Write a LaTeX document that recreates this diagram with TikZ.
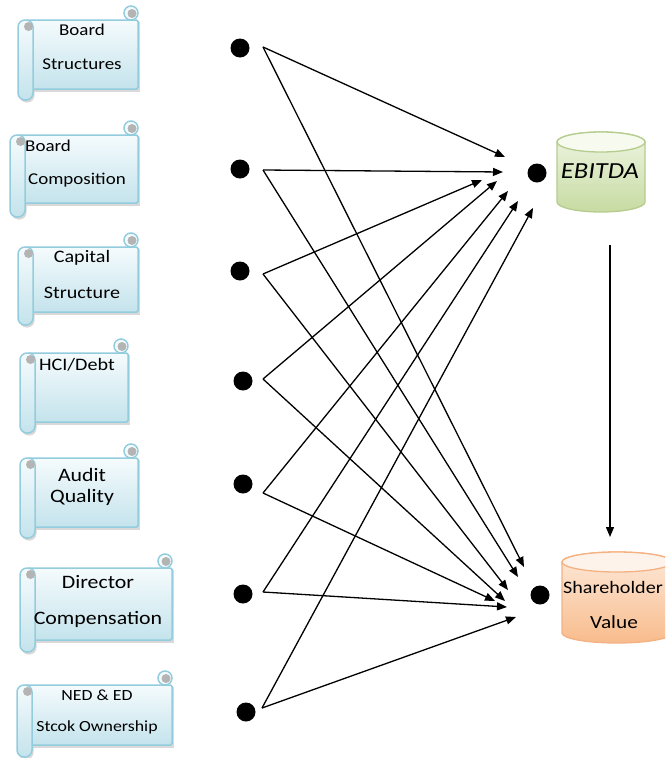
\documentclass[tikz,border=0pt]{standalone}
\usepackage{fontspec}
\setmainfont{Carlito}[FakeStretch=1.15]
\usetikzlibrary{arrows.meta}
\definecolor{scrB}{HTML}{93CDDD}
\definecolor{scrTop}{HTML}{F5FBFD}
\definecolor{scrBot}{HTML}{C4E3EC}
\definecolor{curlG}{HTML}{B4B4B4}
\definecolor{shadowC}{HTML}{D9D9D9}
\definecolor{gB}{HTML}{B5CC8E}
\definecolor{gTop}{HTML}{EEF5E2}
\definecolor{gBot}{HTML}{C7DBA2}
\definecolor{gCap}{HTML}{F6FAEF}
\definecolor{oB}{HTML}{F4B183}
\definecolor{oTop}{HTML}{FDE9DA}
\definecolor{oBot}{HTML}{F8BC8C}
\definecolor{oCap}{HTML}{FEF3EA}
\newcommand{\fsz}[1]{\fontsize{#1}{#1}\selectfont}
% scroll: x0, x1, body top, body bottom, roll bottom
\newcommand{\myscroll}[5]{%
  \fill[shadowC] (#1+10,#3+2) rectangle (#2+2,#4+2.5);
  \fill[shadowC, rounded corners=7pt] (#1+1.5,#3+2) rectangle (#1+16.5,#5+2.5);
  \draw[scrB, line width=1.5pt, top color=scrTop, bottom color=scrBot, rounded corners=1.5pt]
    (#1+8,#3) rectangle (#2,#4);
  \draw[scrB, line width=1.5pt, fill=scrTop] (#2-7,#3-7) circle[radius=7];
  \fill[curlG] (#2-6,#3-6.5) circle[radius=4.5];
  \draw[scrB, line width=1.5pt, top color=scrTop, bottom color=scrBot, rounded corners=7pt]
    (#1,#3) rectangle (#1+15,#5);
  \fill[curlG] (#1+10.5,#3+6.5) circle[radius=4.5];
}
% cylinder: x0, x1, top, bottom, topcolor, bottomcolor, border, capcolor
\newcommand{\mycyl}[8]{%
  \pgfmathsetmacro\mycylcx{(#1+#2)/2}%
  \pgfmathsetmacro\mycylrx{(#2-#1)/2}%
  \draw[draw=#7, line width=1.3pt, top color=#5, bottom color=#6]
    (#1,#3+10) -- (#1,#4-10)
    arc[start angle=180, end angle=0, x radius=\mycylrx, y radius=10]
    -- (#2,#3+10)
    arc[start angle=0, end angle=-180, x radius=\mycylrx, y radius=10] -- cycle;
  \draw[draw=#7, line width=1.3pt, fill=#8] (\mycylcx,#3+10) ellipse[x radius=\mycylrx, y radius=10];
}
\tikzset{
  dot/.style={circle, fill=black, minimum size=19pt, inner sep=0pt},
  link/.style={line width=1.3pt, -{Triangle[length=10pt,width=8pt]}},
  lbl/.style={inner sep=0pt, anchor=center, text=black},
}
\begin{document}
\begin{tikzpicture}[x=1pt,y=-1pt]
\useasboundingbox (0,0) rectangle (665,758);
\clip (0,0) rectangle (665,758);

% scrolls
\myscroll{18}{138}{20}{89}{100}
\myscroll{10}{138}{135}{203}{217}
\myscroll{18}{138}{247}{312}{325}
\myscroll{20}{128}{353}{422}{433}
\myscroll{20}{138}{458}{527}{538}
\myscroll{20}{172}{568}{640}{652}
\myscroll{17}{172}{685}{745}{757}

\node[lbl, font=\fsz{16.5}] (t1a) at (82,30) {Board};
\node[lbl, font=\fsz{16.5}] (t1b) at (82,64) {Structures};
\node[lbl, font=\fsz{16.5}, anchor=west] (t2a) at (25,146) {Board};
\node[lbl, font=\fsz{16.5}] (t2b) at (77,180) {Composition};
\node[lbl, font=\fsz{17.5}] (t3a) at (82,258) {Capital};
\node[lbl, font=\fsz{17.5}] (t3b) at (82,293) {Structure};
\node[lbl, font=\fsz{17.5}] (t4a) at (77,365) {HCI/Debt};
\node[lbl, font=\fsz{19}] (t5a) at (82,475) {Audit};
\node[lbl, font=\fsz{19}] (t5b) at (82,497) {Quality};
\node[lbl, font=\fsz{19}] (t6a) at (98,582) {Director};
\node[lbl, font=\fsz{19}] (t6b) at (98,619) {Compensation};
\node[lbl, font=\fsz{15.5}] (t7a) at (97,695) {NED \& ED};
\node[lbl, font=\fsz{15.5}] (t7b) at (97,727) {Stcok Ownership};

% cylinders
\mycyl{557}{645}{132}{212}{gTop}{gBot}{gB}{gCap}
\node[lbl, font=\fsz{23}\itshape] (ebitda) at (600,171) {EBITDA};
\mycyl{562}{672}{552}{643}{oTop}{oBot}{oB}{oCap}
\node[lbl, font=\fsz{17.5}] (sh1) at (613,587) {Shareholder};
\node[lbl, font=\fsz{18.5}] (sh2) at (614,622) {Value};

% dots
\node[dot] (d1) at (240,48) {};
\node[dot] (d2) at (240,169) {};
\node[dot] (d3) at (240,271) {};
\node[dot] (d4) at (243,381) {};
\node[dot] (d5) at (243,484) {};
\node[dot] (d6) at (243,594) {};
\node[dot] (d7) at (246,712) {};
\node[dot] (de) at (537,173) {};
\node[dot] (dh) at (540,595) {};

% connector ends
\coordinate (s1) at (263,47);
\coordinate (s2) at (263,170);
\coordinate (s3) at (263,274);
\coordinate (s4) at (263,379);
\coordinate (s5) at (263,493);
\coordinate (s6) at (263,592);
\coordinate (s7) at (262,708);
\coordinate (e1) at (505,157);
\coordinate (e2) at (503,172);
\coordinate (e3) at (482,180);
\coordinate (e4) at (497,181);
\coordinate (e5) at (508,191);
\coordinate (e6) at (518,201);
\coordinate (e7) at (533,208);
\coordinate (h1) at (524,567);
\coordinate (h2) at (518,577);
\coordinate (h3) at (508,590);
\coordinate (h4) at (505,601);
\coordinate (h5) at (495,601);
\coordinate (h6) at (507,607);
\coordinate (h7) at (516,617);
\coordinate (v1) at (610,245);
\coordinate (v2) at (610,537);

\foreach \i in {1,...,7}{
  \draw[link] (s\i) -- (e\i);
  \draw[link] (s\i) -- (h\i);
}
\draw[link] (v1) -- (v2);
\end{tikzpicture}
\end{document}
